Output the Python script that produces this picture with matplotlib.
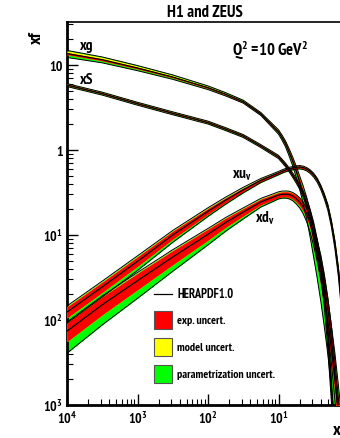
import numpy as np
import matplotlib
matplotlib.use("Agg")
import matplotlib.pyplot as plt
from matplotlib.patches import Rectangle
from matplotlib.lines import Line2D
from matplotlib.ticker import FixedLocator, LogLocator, NullFormatter
from matplotlib import font_manager

# ---------------- data ----------------
log_x = [-4, -3.5, -3, -2.5, -2, -1.75, -1.5, -1.25, -1, -0.95, -0.9, -0.85,
         -0.8, -0.75, -0.7, -0.65, -0.6, -0.55, -0.5, -0.45, -0.4, -0.35,
         -0.3, -0.25, -0.2, -0.15, -0.1]

xg = [13.6, 11.5, 9.2, 7.2, 5.4, 4.52, 3.7, 2.65, 1.63, 1.40, 1.18, 0.944,
      0.743, 0.566, 0.421, 0.305, 0.214, 0.141, 0.0897, 0.0556, 0.0331,
      0.0184, 0.0098, 0.00457, 0.00204, 0.00081, 0.0003]
xg_exp = [0.03, 0.03, 0.025, 0.02, 0.02, 0.02, 0.02, 0.025, 0.03, 0.035, 0.04,
          0.05, 0.06, 0.075, 0.09, 0.105, 0.12, 0.15, 0.18, 0.21, 0.25, 0.28,
          0.30, 0.33, 0.35, 0.38, 0.40]
xg_mod = [0.08, 0.07, 0.06, 0.05, 0.04, 0.035, 0.03, 0.03, 0.04, 0.045, 0.05,
          0.06, 0.07, 0.085, 0.10, 0.12, 0.14, 0.17, 0.20, 0.24, 0.28, 0.32,
          0.35, 0.38, 0.40, 0.43, 0.45]
xg_up = [0.09, 0.08, 0.07, 0.06, 0.05, 0.045, 0.04, 0.04, 0.06, 0.07, 0.08,
         0.10, 0.12, 0.15, 0.18, 0.24, 0.30, 0.37, 0.45, 0.52, 0.60, 0.70,
         0.80, 0.90, 1.00, 1.10, 1.20]
xg_dn = [0.10, 0.08, 0.07, 0.06, 0.05, 0.045, 0.04, 0.04, 0.06, 0.07, 0.08,
         0.10, 0.12, 0.15, 0.18, 0.23, 0.28, 0.34, 0.40, 0.45, 0.50, 0.55,
         0.60, 0.65, 0.70, 0.72, 0.75]

xS = [5.8, 4.6, 3.5, 2.7, 2.1, 1.76, 1.46, 1.11, 0.828, 0.745, 0.667, 0.586,
      0.508, 0.437, 0.372, 0.305, 0.240, 0.178, 0.123, 0.0759, 0.0417,
      0.0191, 0.0063, 0.00158, 0.00032, 0.00005, 0.00001]
xS_exp = [0.02, 0.02, 0.02, 0.02, 0.02, 0.02, 0.02, 0.02, 0.025, 0.027, 0.03,
          0.035, 0.04, 0.045, 0.05, 0.06, 0.07, 0.085, 0.10, 0.12, 0.15, 0.17,
          0.20, 0.22, 0.25, 0.27, 0.30]
xS_mod = [0.03, 0.03, 0.03, 0.03, 0.03, 0.03, 0.03, 0.03, 0.035, 0.037, 0.04,
          0.045, 0.05, 0.055, 0.06, 0.07, 0.08, 0.10, 0.12, 0.15, 0.18, 0.21,
          0.24, 0.27, 0.30, 0.32, 0.35]
xS_up = [0.04, 0.04, 0.04, 0.04, 0.04, 0.04, 0.04, 0.04, 0.045, 0.047, 0.05,
         0.055, 0.06, 0.065, 0.07, 0.085, 0.10, 0.12, 0.14, 0.17, 0.20, 0.24,
         0.28, 0.31, 0.35, 0.37, 0.40]
xS_dn = [0.04, 0.04, 0.04, 0.04, 0.04, 0.04, 0.04, 0.04, 0.045, 0.047, 0.05,
         0.055, 0.06, 0.065, 0.07, 0.085, 0.10, 0.12, 0.14, 0.17, 0.20, 0.24,
         0.28, 0.31, 0.35, 0.37, 0.40]

xuv = [0.0124, 0.0245, 0.049, 0.100, 0.19, 0.257, 0.34, 0.44, 0.537, 0.561,
       0.582, 0.600, 0.614, 0.625, 0.631, 0.621, 0.597, 0.560, 0.508, 0.444,
       0.367, 0.288, 0.214, 0.138, 0.0783, 0.0372, 0.0135]
xuv_exp = [0.15, 0.14, 0.13, 0.11, 0.08, 0.065, 0.05, 0.04, 0.03, 0.03, 0.03,
           0.03, 0.03, 0.03, 0.03, 0.03, 0.03, 0.032, 0.035, 0.037, 0.04,
           0.045, 0.05, 0.06, 0.07, 0.085, 0.10]
xuv_mod = [0.16, 0.15, 0.14, 0.12, 0.09, 0.075, 0.06, 0.05, 0.035, 0.035,
           0.035, 0.035, 0.035, 0.035, 0.035, 0.035, 0.035, 0.037, 0.04,
           0.042, 0.045, 0.05, 0.06, 0.07, 0.08, 0.10, 0.12]
xuv_up = [0.18, 0.17, 0.16, 0.13, 0.10, 0.085, 0.07, 0.05, 0.04, 0.04, 0.04,
          0.04, 0.04, 0.04, 0.04, 0.04, 0.04, 0.042, 0.045, 0.047, 0.05, 0.06,
          0.07, 0.085, 0.10, 0.12, 0.14]
xuv_dn = [0.26, 0.24, 0.22, 0.18, 0.13, 0.105, 0.08, 0.06, 0.05, 0.05, 0.05,
          0.05, 0.05, 0.05, 0.05, 0.05, 0.05, 0.055, 0.06, 0.065, 0.07, 0.08,
          0.09, 0.10, 0.12, 0.14, 0.16]

xdv = [0.0074, 0.0151, 0.029, 0.055, 0.102, 0.140, 0.186, 0.245, 0.295,
       0.301, 0.302, 0.299, 0.288, 0.269, 0.245, 0.214, 0.178, 0.138, 0.102,
       0.0708, 0.0457, 0.0263, 0.0135, 0.00603, 0.00229, 0.00079, 0.00023]
xdv_exp = [0.25, 0.24, 0.22, 0.19, 0.15, 0.125, 0.10, 0.08, 0.07, 0.07, 0.07,
           0.075, 0.08, 0.09, 0.10, 0.11, 0.12, 0.135, 0.15, 0.17, 0.20, 0.22,
           0.25, 0.27, 0.30, 0.32, 0.35]
xdv_mod = [0.26, 0.25, 0.23, 0.20, 0.16, 0.135, 0.11, 0.09, 0.08, 0.08, 0.08,
           0.085, 0.09, 0.10, 0.11, 0.12, 0.13, 0.15, 0.17, 0.19, 0.22, 0.25,
           0.28, 0.31, 0.34, 0.37, 0.40]
xdv_up = [0.28, 0.27, 0.25, 0.22, 0.17, 0.145, 0.12, 0.10, 0.09, 0.09, 0.09,
          0.095, 0.10, 0.11, 0.12, 0.135, 0.15, 0.17, 0.20, 0.23, 0.27, 0.31,
          0.35, 0.40, 0.45, 0.50, 0.55]
xdv_dn = [0.45, 0.42, 0.38, 0.32, 0.25, 0.21, 0.17, 0.13, 0.10, 0.10, 0.10,
          0.11, 0.12, 0.135, 0.15, 0.17, 0.20, 0.23, 0.27, 0.31, 0.35, 0.40,
          0.45, 0.48, 0.50, 0.52, 0.55]

x_ticks = [1e-4, 1e-3, 1e-2, 1e-1]
x_tick_labels = ["$\\mathbf{10^{4}}$", "$\\mathbf{10^{3}}$",
                 "$\\mathbf{10^{2}}$", "$\\mathbf{10^{1}}$"]
y_ticks = [1e-3, 1e-2, 1e-1, 1, 10]
y_tick_labels = ["$\\mathbf{10^{3}}$", "$\\mathbf{10^{2}}$",
                 "$\\mathbf{10^{1}}$", "1", "10"]

legend_labels = ["HERAPDF1.0", "exp. uncert.", "model uncert.",
                 "parametrization uncert."]

# ---------------- style ----------------
names = {f.name for f in font_manager.fontManager.ttflist}
FONT = "Liberation Sans"
for cand in ["PT Sans Narrow", "Roboto Condensed", "Asap Condensed",
             "Barlow Semi Condensed", "Liberation Sans Narrow"]:
    if cand in names:
        FONT = cand
        break
NARROW = FONT != "Liberation Sans"
S = 1.0 if NARROW else 0.82

plt.rcParams["font.family"] = [FONT, "DejaVu Sans"]
plt.rcParams["font.weight"] = "bold"
plt.rcParams["mathtext.fontset"] = "custom"
plt.rcParams["mathtext.rm"] = FONT + ":bold"
plt.rcParams["mathtext.it"] = FONT + ":bold"
plt.rcParams["mathtext.bf"] = FONT + ":bold"

RED = "#ff0000"
YEL = "#ffff00"
GRN = "#00ff00"

fig = plt.figure(figsize=(3.40, 4.39), dpi=100)
ax = fig.add_axes([67 / 340, 33 / 439, 282 / 340, 383 / 439])

x = 10.0 ** np.array(log_x)


def draw_pdf(c, exp, mod, up, dn):
    c = np.array(c)
    exp = np.array(exp)
    mod = np.array(mod)
    up = np.array(up)
    dn = np.array(dn)
    ax.fill_between(x, c * (1 - dn), c * (1 + up), color=GRN, lw=0, zorder=2)
    ax.fill_between(x, c * (1 - exp), c * (1 + mod), color=YEL, lw=0, zorder=3)
    ax.fill_between(x, c * (1 - exp), c * (1 + exp), color=RED, lw=0, zorder=4)
    ax.plot(x, c * (1 + up), color="black", lw=0.7, zorder=5)
    ax.plot(x, c * (1 - dn), color="black", lw=0.7, zorder=5)
    ax.plot(x, c, color="black", lw=0.9, zorder=6)


draw_pdf(xdv, xdv_exp, xdv_mod, xdv_up, xdv_dn)
draw_pdf(xuv, xuv_exp, xuv_mod, xuv_up, xuv_dn)
draw_pdf(xS, xS_exp, xS_mod, xS_up, xS_dn)
draw_pdf(xg, xg_exp, xg_mod, xg_up, xg_dn)

ax.set_xscale("log")
ax.set_yscale("log")
ax.set_xlim(1e-4, 1)
ax.set_ylim(1e-3, 32)

ax.xaxis.set_major_locator(FixedLocator(x_ticks))
ax.set_xticklabels(x_tick_labels)
ax.yaxis.set_major_locator(FixedLocator(y_ticks))
ax.set_yticklabels(y_tick_labels)
ax.xaxis.set_minor_locator(LogLocator(base=10, subs=np.arange(2, 10)))
ax.yaxis.set_minor_locator(LogLocator(base=10, subs=np.arange(2, 10)))
ax.xaxis.set_minor_formatter(NullFormatter())
ax.yaxis.set_minor_formatter(NullFormatter())
ax.tick_params(which="major", direction="in", length=8, width=1.0,
               labelsize=10 * S, top=False, right=False)
ax.tick_params(which="minor", direction="in", length=4, width=0.8,
               top=False, right=False)
ax.tick_params(axis="x", pad=4)
ax.tick_params(axis="y", pad=3)
for lab in ax.get_xticklabels() + ax.get_yticklabels():
    lab.set_fontweight("bold")
ax.spines["left"].set_linewidth(2)
ax.spines["bottom"].set_linewidth(2)
ax.spines["top"].set_linewidth(1.2)

# ---------------- texts ----------------
fig.text(205 / 340, 1 - 13 / 439, "H1 and ZEUS", ha="center", va="center",
         fontsize=12 * S, fontweight="bold")
fig.text(37 / 340, 1 - 38 / 439, "xf", ha="center", va="center",
         fontsize=13 * S, fontweight="bold", rotation=90)
fig.text(337 / 340, 1 - 431 / 439, "x", ha="center", va="center",
         fontsize=13 * S, fontweight="bold")
fig.text(270 / 340, 1 - 51 / 439, "Q$^2$ =10 GeV$^2$", ha="center",
         va="center", fontsize=12 * S, fontweight="bold")
fig.text(87 / 340, 1 - 46 / 439, "xg", ha="center", va="center",
         fontsize=11 * S, fontweight="bold")
fig.text(87 / 340, 1 - 80 / 439, "xS", ha="center", va="center",
         fontsize=11 * S, fontweight="bold")
fig.text(242 / 340, 1 - 176 / 439, "xu$_v$", ha="center", va="center",
         fontsize=11 * S, fontweight="bold")
fig.text(265 / 340, 1 - 218 / 439, "xd$_v$", ha="center", va="center",
         fontsize=11 * S, fontweight="bold")

# ---------------- legend ----------------
def fx(px):
    return px / 340


def fy(py):
    return 1 - py / 439


fig.add_artist(Line2D([fx(154), fx(172)], [fy(295), fy(295)], color="black",
                      lw=0.9))
fig.text(fx(177), fy(295), legend_labels[0], ha="left", va="center",
         fontsize=9 * S, fontweight="bold")
for (col, py, lab) in [(RED, 321, legend_labels[1]), (YEL, 348, legend_labels[2]),
                       (GRN, 375, legend_labels[3])]:
    fig.add_artist(Rectangle((fx(154), fy(py + 9)), fx(172) - fx(154),
                             fy(py - 9) - fy(py + 9), facecolor=col,
                             edgecolor="#555555", lw=0.8))
    fig.text(fx(177), fy(py), lab, ha="left", va="center", fontsize=8.5 * S,
             fontweight="bold")

fig.savefig("out.png", dpi=100)
